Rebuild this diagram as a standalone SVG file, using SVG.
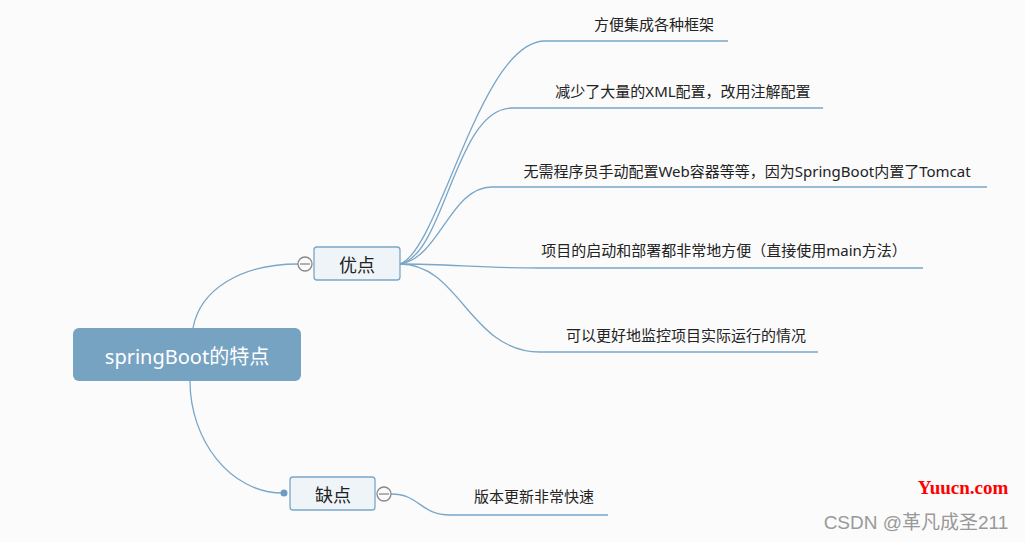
<svg xmlns="http://www.w3.org/2000/svg" width="1025" height="542" viewBox="0 0 1025 542">
<style>
.bg{fill:#fbfbfb}
.conn path{fill:none;stroke:#7aa6c7;stroke-width:1.3}
.sub rect{fill:#eef4f8;stroke:#7aa6c7;stroke-width:1.3}
.t{font-family:"Noto Sans","Noto Sans CJK SC",sans-serif;fill:#222}
.col circle{fill:#fbfbfb;stroke:#888;stroke-width:1.3}
.col line{stroke:#888;stroke-width:1.3}
</style>
<rect class="bg" x="0" y="0" width="1025" height="542"/>
<g class="conn">
<path d="M193,328 C200,290 240,264 298,264"/>
<path d="M190,381 C190,440 230,493 283,493"/>
<path d="M400,264 C440,250 480,41 545,41 L728,41"/>
<path d="M400,264 C445,255 455,108 512,108 L823,108"/>
<path d="M400,264 C440,258 450,187 492,187 L987,187"/>
<path d="M400,264 C450,264 480,268 540,268 L923,268"/>
<path d="M400,264 C460,264 470,352 540,352 L818,352"/>
<path d="M391,494 C420,494 420,515 450,515 L608,515"/>
</g>
<g id="root">
<rect x="73" y="328" width="228" height="53" rx="6" fill="#77a3c3"/>
<text x="187" y="364" text-anchor="middle" font-size="20" font-family="Noto Sans,Noto Sans CJK SC,sans-serif" fill="#ffffff">springBoot的特点</text>
</g>
<g id="pros" class="sub">
<rect x="314" y="247" width="86" height="33" rx="3"/>
<text class="t" x="357" y="272" text-anchor="middle" font-size="18">优点</text>
</g>
<g id="pros-collapse" class="col">
<circle cx="305" cy="264" r="7"/>
<line x1="300" y1="264" x2="310" y2="264"/>
</g>
<g id="cons" class="sub">
<rect x="290" y="477" width="85" height="33" rx="3"/>
<text class="t" x="333" y="502" text-anchor="middle" font-size="18">缺点</text>
</g>
<circle cx="284" cy="493" r="3.5" fill="#6d9cc0"/>
<g id="cons-collapse" class="col">
<circle cx="384" cy="494" r="7"/>
<line x1="379" y1="494" x2="389" y2="494"/>
</g>
<g id="p1"><text class="t" x="654" y="30" text-anchor="middle" font-size="15">方便集成各种框架</text></g>
<g id="p2"><text class="t" x="683" y="97" text-anchor="middle" font-size="15">减少了大量的XML配置，改用注解配置</text></g>
<g id="p3"><text class="t" x="747" y="177" text-anchor="middle" font-size="15">无需程序员手动配置Web容器等等，因为SpringBoot内置了Tomcat</text></g>
<g id="p4"><text class="t" x="724" y="256" text-anchor="middle" font-size="15">项目的启动和部署都非常地方便（直接使用main方法）</text></g>
<g id="p5"><text class="t" x="686" y="341" text-anchor="middle" font-size="15">可以更好地监控项目实际运行的情况</text></g>
<g id="c1"><text class="t" x="534" y="502" text-anchor="middle" font-size="15">版本更新非常快速</text></g>
<text x="963" y="494" text-anchor="middle" font-size="19" font-weight="bold" font-family="Liberation Serif,serif" fill="#ff0000">Yuucn.com</text>
<text x="916" y="529" text-anchor="middle" font-size="19" font-family="Liberation Sans,Noto Sans CJK SC,sans-serif" fill="#999999">CSDN @革凡成圣211</text>
</svg>
